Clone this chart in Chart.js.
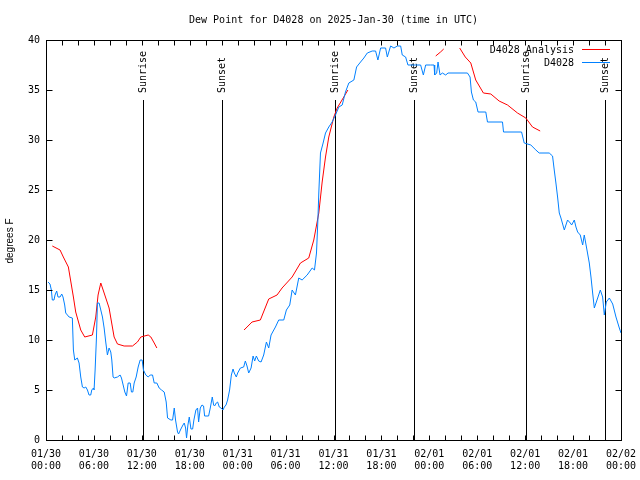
<!DOCTYPE html>
<html>
<head>
<meta charset="utf-8">
<script src="https://cdn.jsdelivr.net/npm/chart.js@4.4.1/dist/chart.umd.min.js"></script>
<style>
  body { margin: 0; background: #fff; }
  canvas { display: block; }
</style>
</head>
<body>
<canvas id="dewChart" width="640" height="480"></canvas>
<script>
// hours since 2025-01-30 00:00 UTC
const obsHours = [0.25,0.5,0.67,0.79,1.0,1.13,1.34,1.5,1.76,1.97,2.13,2.34,2.47,2.89,3.3,3.43,3.6,3.93,4.14,4.35,4.56,4.77,4.98,5.19,5.39,5.6,5.73,5.94,6.02,6.15,6.32,6.44,6.65,6.86,7.07,7.28,7.48,7.69,7.9,8.11,8.24,8.4,8.53,8.95,9.28,9.45,9.66,9.87,10.08,10.29,10.54,10.7,10.87,11.04,11.29,11.54,11.79,12.04,12.2,12.5,12.8,13.05,13.34,13.55,13.88,14.17,14.47,14.8,15.05,15.22,15.64,15.85,16.06,16.22,16.47,16.6,16.89,17.15,17.31,17.48,17.6,17.77,17.94,18.15,18.36,18.52,18.77,18.98,19.11,19.32,19.53,19.73,19.86,20.36,20.57,20.82,20.99,21.11,21.32,21.49,21.7,21.91,22.16,22.33,22.54,22.74,22.99,23.21,23.42,23.58,23.83,24.0,24.34,24.75,24.96,25.17,25.38,25.68,25.93,26.13,26.34,26.63,26.93,27.26,27.6,27.89,28.18,28.73,29.14,29.77,30.1,30.52,30.82,31.23,31.65,32.07,32.7,33.33,33.62,33.87,34.03,34.16,34.37,34.7,35.0,35.41,35.83,36.25,36.67,37.09,37.5,37.92,38.55,38.89,39.39,39.8,40.23,40.85,41.27,41.56,41.9,42.52,42.74,43.15,43.57,43.99,44.41,44.61,45.03,45.32,46.29,46.91,47.25,47.54,48.17,48.59,48.67,48.92,49.09,49.34,49.63,50.05,50.34,52.77,53.1,53.27,53.52,53.81,54.1,55.07,55.28,57.16,57.29,59.55,59.88,60.71,61.34,61.75,63.01,63.43,63.64,63.85,64.06,64.27,64.48,64.9,65.31,65.65,65.82,66.15,66.36,66.57,66.9,67.2,67.4,67.74,68.03,68.24,68.45,68.66,69.08,69.41,69.7,69.91,70.16,70.54,70.96,71.37,71.79,72];
const obsDew = [15.8,15.6,15.0,14.0,14.0,14.5,14.9,14.3,14.3,14.6,14.3,13.5,12.7,12.3,12.2,9.0,8.0,8.2,7.7,6.3,5.3,5.2,5.3,5.0,4.5,4.5,5.0,5.2,5.0,7.0,10.3,13.7,13.7,13.0,12.3,11.2,9.8,8.5,9.2,8.8,8.0,6.3,6.2,6.3,6.5,6.2,5.5,4.8,4.4,5.7,5.7,4.8,4.8,5.7,6.3,7.3,8.0,8.0,7.0,6.5,6.3,6.5,6.5,5.7,5.7,5.2,5.0,4.8,3.8,2.2,2.0,2.0,3.2,2.0,0.8,0.6,1.1,1.5,1.7,1.2,0.2,1.5,2.3,1.1,1.1,2.0,3.0,3.2,1.8,3.2,3.5,3.4,2.4,2.4,3.2,4.3,3.5,3.4,3.7,3.8,3.3,3.2,3.0,3.3,3.5,4.0,5.0,6.5,7.1,6.7,6.3,6.7,7.2,7.3,7.9,7.4,6.7,7.2,8.4,7.9,8.4,7.9,7.8,8.5,9.8,9.2,10.5,11.3,12.0,12.0,13.0,13.5,15.0,14.5,16.2,16.0,16.5,17.2,17.0,18.7,21.7,24.7,28.7,29.7,30.7,31.3,31.8,32.5,33.3,33.5,34.8,35.7,36.0,37.3,37.8,38.2,38.7,38.9,38.9,38.0,39.2,39.2,38.3,39.4,39.2,39.4,39.4,38.5,38.3,37.5,37.5,37.5,36.5,37.5,37.5,37.5,36.5,36.7,37.8,36.5,36.7,36.5,36.7,36.7,36.3,34.8,34.0,33.8,32.8,32.8,31.8,31.8,30.8,30.8,29.7,29.5,29.0,28.7,28.7,28.4,27.0,25.7,24.3,22.7,22.2,21.0,22.0,21.7,21.5,22.0,21.3,20.8,20.5,19.5,20.5,19.0,17.7,16.3,14.7,13.2,14.2,15.0,14.3,12.5,13.8,14.2,13.6,12.3,11.2,10.7];

// analysis, null = no value
const anaHours = [0.79,1.76,2.17,2.8,3.43,3.72,4.35,4.85,5.81,6.23,6.52,6.86,7.28,7.9,8.53,8.95,9.78,10.83,11.45,11.87,12.8,13.13,13.55,13.88,18,24.8,25.8,26.84,27.89,28.93,29.56,30.82,31.86,32.9,33.53,34.16,34.58,35.0,35.41,36.04,36.46,37.29,37.8,43,48.8,49.4,49.8,50.8,51.8,52.5,53.19,53.81,54.77,55.7,56.74,57.79,59.04,60.08,60.92,61.88];
const anaDew = [19.4,19.0,18.3,17.3,14.3,12.8,11.0,10.3,10.5,12.3,14.5,15.7,14.7,13.2,10.3,9.6,9.4,9.4,9.8,10.3,10.5,10.3,9.7,9.2,null,11.0,11.8,12.0,14.1,14.5,15.2,16.3,17.7,18.2,20.0,22.7,25.8,28.3,30.3,32.3,33.2,34.3,35.0,null,38.4,38.8,39.1,null,39.2,38.3,37.7,36.0,34.7,34.6,33.9,33.5,32.7,32.2,31.3,30.9];

const sunEventHours = [12.13, 22.04, 36.16, 46.07, 60.12, 70.03];
const sunEventNames = ['Sunrise', 'Sunset', 'Sunrise', 'Sunset', 'Sunrise', 'Sunset'];

const xTickLabels = ['01/30 00:00','01/30 06:00','01/30 12:00','01/30 18:00','01/31 00:00','01/31 06:00','01/31 12:00','01/31 18:00','02/01 00:00','02/01 06:00','02/01 12:00','02/01 18:00','02/02 00:00'];
const yTicks = [0, 5, 10, 15, 20, 25, 30, 35, 40];

const MONO = '"DejaVu Sans Mono", "Liberation Mono", monospace';

// frame, inward ticks, sun lines, title, legend - gnuplot look
const gnuplotDecor = {
    id: 'gnuplotDecor',
    beforeDatasetsDraw(chart) {
        const { ctx, chartArea: a, scales: { x } } = chart;
        ctx.save();
        ctx.strokeStyle = '#000';
        ctx.lineWidth = 1;
        ctx.fillStyle = '#000';
        ctx.font = '10px ' + MONO;
        sunEventHours.forEach((h, i) => {
            const px = Math.round(x.getPixelForValue(h)) + 0.5;
            ctx.beginPath();
            ctx.moveTo(px, 100);
            ctx.lineTo(px, a.bottom);
            ctx.stroke();
            ctx.save();
            ctx.translate(px, 93);
            ctx.rotate(-Math.PI / 2);
            ctx.textAlign = 'left';
            ctx.textBaseline = 'middle';
            ctx.fillText(sunEventNames[i], 0, 0);
            ctx.restore();
        });
        ctx.restore();
    },
    afterDraw(chart) {
        const { ctx, chartArea: a, scales: { x, y } } = chart;
        ctx.save();
        ctx.strokeStyle = '#000';
        ctx.lineWidth = 1;
        const L = Math.round(a.left) + 0.5, R = Math.round(a.right) + 0.5;
        const T = Math.round(a.top) + 0.5, B = Math.round(a.bottom) + 0.5;
        ctx.strokeRect(L, T, R - L, B - T);

        ctx.beginPath();
        for (let h = 2; h < 72; h += 2) {
            const px = Math.round(x.getPixelForValue(h)) + 0.5;
            ctx.moveTo(px, B); ctx.lineTo(px, B - 5);
            ctx.moveTo(px, T); ctx.lineTo(px, T + 5);
        }
        yTicks.forEach(v => {
            if (v === 0 || v === 40) return;
            const py = Math.round(y.getPixelForValue(v)) + 0.5;
            ctx.moveTo(L, py); ctx.lineTo(L + 6, py);
            ctx.moveTo(R, py); ctx.lineTo(R - 6, py);
        });
        ctx.stroke();

        ctx.fillStyle = '#000';
        ctx.font = '10px ' + MONO;
        ctx.textAlign = 'center';
        ctx.textBaseline = 'middle';
        ctx.fillText('Dew Point for D4028 on 2025-Jan-30 (time in UTC)', (a.left + a.right) / 2, 20);

        // legend
        ctx.textAlign = 'right';
        ctx.fillText('D4028 Analysis', 574, 50);
        ctx.fillText('D4028', 574, 63);
        ctx.strokeStyle = '#ff0000';
        ctx.beginPath(); ctx.moveTo(582, 49.5); ctx.lineTo(610, 49.5); ctx.stroke();
        ctx.strokeStyle = '#0080ff';
        ctx.beginPath(); ctx.moveTo(582, 62.5); ctx.lineTo(610, 62.5); ctx.stroke();

        // y label
        ctx.save();
        ctx.translate(10, 241);
        ctx.rotate(-Math.PI / 2);
        ctx.textAlign = 'center';
        ctx.font = '10px "Liberation Sans", Arial, sans-serif';
        ctx.fillText('degrees F', 0, 0);
        ctx.restore();
        ctx.restore();
    }
};

const ctx = document.getElementById('dewChart').getContext('2d');
new Chart(ctx, {
    type: 'line',
    data: {
        datasets: [{
            label: 'D4028',
            data: obsHours.map((h, i) => ({ x: h, y: obsDew[i] })),
            borderColor: '#0080ff',
            borderWidth: 1,
            pointRadius: 0,
            tension: 0,
            order: 0
        }, {
            label: 'D4028 Analysis',
            data: anaHours.map((h, i) => ({ x: h, y: anaDew[i] })),
            borderColor: '#ff0000',
            borderWidth: 1,
            pointRadius: 0,
            tension: 0,
            spanGaps: false,
            order: 1
        }]
    },
    options: {
        responsive: false,
        animation: false,
        devicePixelRatio: 1,
        layout: { padding: { top: 40, right: 19, left: 0, bottom: 0 } },
        plugins: { legend: { display: false }, tooltip: { enabled: false }, title: { display: false } },
        scales: {
            x: {
                type: 'linear',
                min: 0,
                max: 72,
                grid: { display: false, tickLength: 0 },
                border: { display: false },
                afterFit: s => { s.height = 40; s.paddingLeft = 0; s.paddingRight = 0; },
                afterBuildTicks: s => { s.ticks = xTickLabels.map((t, i) => ({ value: i * 6 })); },
                ticks: {
                    autoSkip: false,
                    maxRotation: 0,
                    padding: 9,
                    color: '#000',
                    font: { family: MONO, size: 10, lineHeight: 1.15 },
                    callback: (v) => xTickLabels[v / 6].split(' ')
                }
            },
            y: {
                min: 0,
                max: 40,
                grid: { display: false, tickLength: 0 },
                border: { display: false },
                afterFit: s => { s.width = 46; s.paddingTop = 0; s.paddingBottom = 0; },
                afterBuildTicks: s => { s.ticks = yTicks.map(v => ({ value: v })); },
                ticks: {
                    padding: 6,
                    color: '#000',
                    font: { family: MONO, size: 10 }
                }
            }
        }
    },
    plugins: [gnuplotDecor]
});
</script>
</body>
</html>
